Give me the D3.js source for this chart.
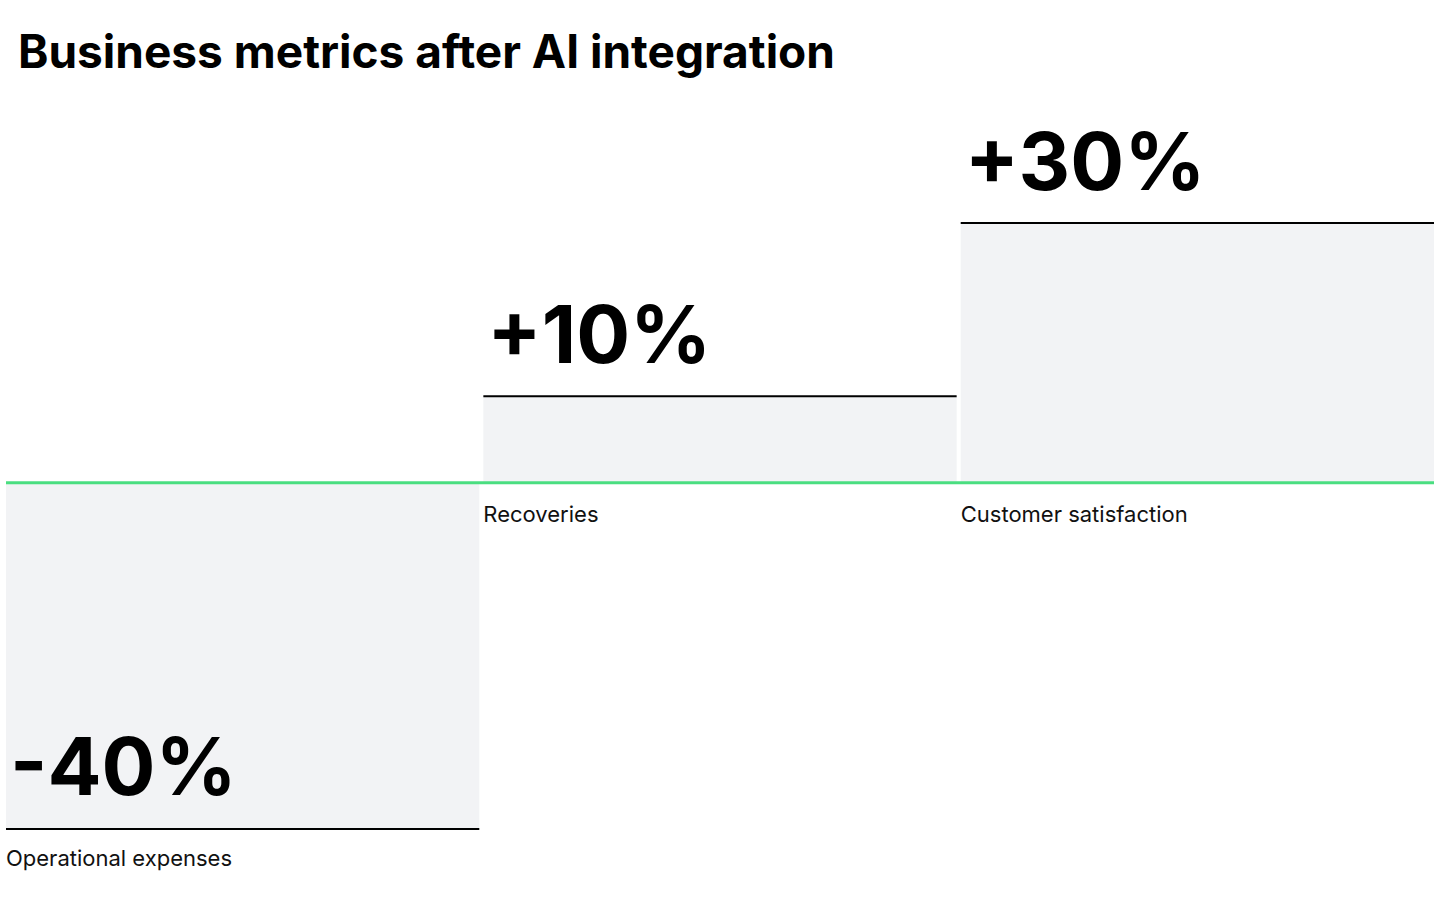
<!DOCTYPE html>
<html><head><meta charset="utf-8">
<script src="https://cdn.jsdelivr.net/npm/d3@7"></script>
<style>body{margin:0;background:#fff;font-family:Inter,"Noto Sans",sans-serif}</style>
</head><body><svg id="c" width="1440" height="912"></svg>
<script>
const categories = ["Operational expenses","Recoveries","Customer satisfaction"];
const values = [-40, 10, 30];
const valueLabels = ["-40%","+10%","+30%"];
const title = "Business metrics after AI integration";

const svg = d3.select("#c");
const x = d3.scaleBand().domain(categories).range([6,1434]).paddingInner(0.0085);
const y = d3.scaleLinear().domain([-40,30]).range([829,223]);
const y0 = y(0);

svg.append("text").attr("x",18).attr("y",68).attr("font-size",46).attr("font-weight",700)
  .attr("fill","#000").text(title);

const g = svg.selectAll("g.bar").data(categories).join("g");
g.append("rect").attr("x",d=>x(d)).attr("width",x.bandwidth())
  .attr("y",(d,i)=>Math.min(y(values[i]),y0)).attr("height",(d,i)=>Math.abs(y(values[i])-y0))
  .attr("fill","#f2f3f5");
g.append("line").attr("x1",d=>x(d)).attr("x2",d=>x(d)+x.bandwidth())
  .attr("y1",(d,i)=>y(values[i])).attr("y2",(d,i)=>y(values[i]))
  .attr("stroke","#000").attr("stroke-width",2);
g.append("text").attr("x",d=>x(d)+4).attr("y",(d,i)=>values[i]>=0?y(values[i])-33:y(values[i])-34)
  .attr("font-size",80).attr("font-weight",700).attr("fill","#000").text((d,i)=>valueLabels[i]);
g.append("text").attr("x",d=>x(d)).attr("y",(d,i)=>values[i]>=0?y0+39:y(values[i])+37)
  .attr("font-size",22).attr("fill","#111").text(d=>d);

svg.append("line").attr("x1",6).attr("x2",1434).attr("y1",y0).attr("y2",y0)
  .attr("stroke","#4ade80").attr("stroke-width",3);
</script></body></html>
